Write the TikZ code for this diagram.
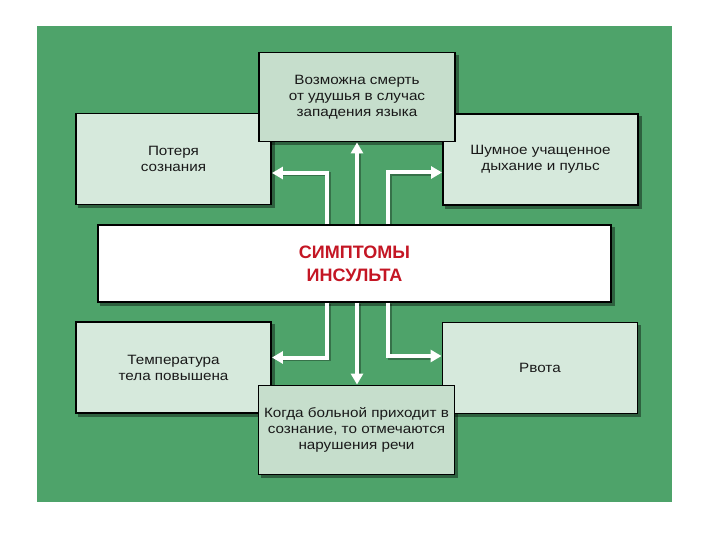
\documentclass[tikz,border=0pt]{standalone}
\usepackage{fontspec}
\setmainfont{Liberation Sans}[FakeStretch=1.13]
\newfontfamily\titlefont{Liberation Sans}
\usetikzlibrary{arrows.meta}
\pgfdeclarelayer{bg}
\pgfsetlayers{bg,main}
\definecolor{bggreen}{RGB}{78,163,106}
\definecolor{sidefill}{RGB}{214,233,220}
\definecolor{midfill}{RGB}{198,222,204}
\definecolor{titlered}{RGB}{196,22,36}
\tikzset{
  box/.style={draw=black, line width=1.9pt, rectangle, align=center,
    font=\fontsize{13.5}{16}\selectfont, text=black!90},
  sidebox/.style={box, fill=sidefill, minimum width=195pt, minimum height=91pt},
  midbox/.style={box, fill=midfill, minimum width=196pt, minimum height=89pt},
  shadowbox/.style={fill=black, opacity=0.4},
  arr/.style={draw=white, line width=4pt,
    -{Triangle[width=12pt,length=11pt]}},
  arrshadow/.style={draw=black, opacity=0.3, line width=4pt}
}
\begin{document}
\begin{tikzpicture}[x=1pt,y=-1pt]
\useasboundingbox (0,0) rectangle (720,540);
\begin{pgfonlayer}{bg}
\fill[white] (0,0) rectangle (720,540);
\fill[bggreen] (37,26) rectangle (672,502);
\end{pgfonlayer}

\node[sidebox] (lt) at (173.5,159) {Потеря\\сознания};
\node[sidebox] (rt) at (540.5,159.5) {Шумное учащенное\\дыхание и пульс};
\node[sidebox] (lb) at (173.5,367.5) {Температура\\тела повышена};
\node[sidebox] (rb) at (540,368) {Рвота};
\node[midbox] (tc) at (357,97) {Возможна смерть\\от удушья в случас\\западения языка};
\node[midbox] (bc) at (356.5,430) {Когда больной приходит в\\сознание, то отмечаются\\нарушения речи};
\node[box, fill=white, minimum width=513pt, minimum height=77pt,
      font=\titlefont\bfseries\fontsize{18}{23}\selectfont, text=titlered]
      (c) at (354.5,263.5) {СИМПТОМЫ\\ИНСУЛЬТА};

\begin{pgfonlayer}{bg}
\foreach \n in {lt,rt,lb,rb,tc,bc,c}
  \fill[shadowbox] ([shift={(3pt,-3pt)}]\n.north west) rectangle ([shift={(3pt,-3pt)}]\n.south east);
\end{pgfonlayer}

\coordinate (vL) at (327,0);
\coordinate (vM) at (357,0);
\coordinate (vR) at (388,0);

\begin{scope}[transform canvas={shift={(1.5pt,-1.5pt)}}]
\draw[arrshadow] (c.north -| vL) |- ([yshift=-14pt,xshift=10pt]lt.east);
\draw[arrshadow] (c.north -| vM) -- ([yshift=-10pt]tc.south -| vM);
\draw[arrshadow] (c.north -| vR) |- ([yshift=-13pt,xshift=-10pt]rt.west);
\draw[arrshadow] (c.south -| vL) |- ([yshift=10pt,xshift=10pt]lb.east);
\draw[arrshadow] (c.south -| vM) -- ([yshift=10pt]bc.north -| vM);
\draw[arrshadow] (c.south -| vR) |- ([yshift=12pt,xshift=-10pt]rb.west);
\end{scope}
\draw[arr] (c.north -| vL) |- ([yshift=-14pt]lt.east);
\draw[arr] (c.north -| vM) -- (tc.south -| vM);
\draw[arr] (c.north -| vR) |- ([yshift=-13pt]rt.west);
\draw[arr] (c.south -| vL) |- ([yshift=10pt]lb.east);
\draw[arr] (c.south -| vM) -- (bc.north -| vM);
\draw[arr] (c.south -| vR) |- ([yshift=12pt]rb.west);
\end{tikzpicture}
\end{document}
